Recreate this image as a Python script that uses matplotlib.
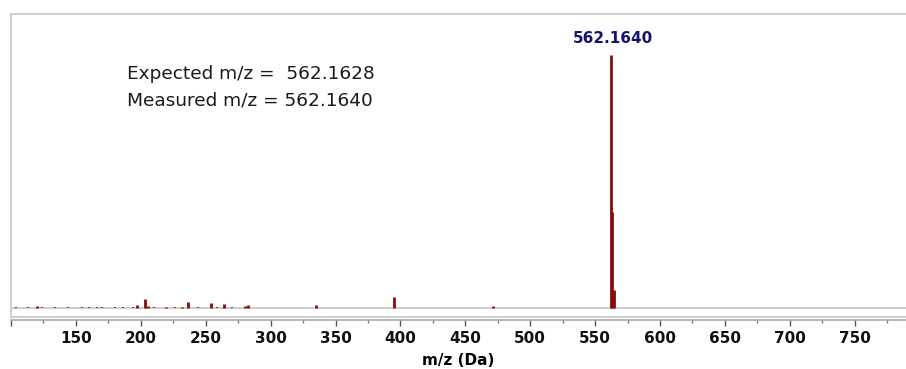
import matplotlib.pyplot as plt
from matplotlib.lines import Line2D

# peak list (relative intensity, %)
peak_mz = [562.164, 563.17, 564.17, 395.1, 203.0, 236.4, 254.1, 264.3, 197.1, 335.0,
           205.3, 282.2, 280.2, 120.0, 219.4, 232.0, 471.0]
peak_int = [100.0, 37.8, 7.1, 4.5, 3.5, 2.6, 2.2, 1.8, 1.3, 1.3,
            0.9, 1.2, 0.8, 0.8, 0.6, 0.6, 0.8]

# low-level noise along the baseline
noise_mz = [104, 108, 113, 117, 124, 129, 134, 139, 144, 149, 155, 160, 166, 170, 175,
            180, 186, 190, 194, 210, 214, 226, 244, 249, 259, 270, 275, 290, 350, 355,
            360, 370, 379, 420, 437, 505, 518, 534, 552, 592]
noise_int = [0.3, 0.2, 0.3, 0.2, 0.3, 0.2, 0.3, 0.2, 0.3, 0.2, 0.3, 0.3, 0.4, 0.3, 0.2,
             0.3, 0.3, 0.2, 0.3, 0.3, 0.2, 0.3, 0.3, 0.2, 0.3, 0.3, 0.2, 0.2, 0.2, 0.2,
             0.2, 0.2, 0.2, 0.1, 0.1, 0.2, 0.1, 0.2, 0.2, 0.2]

base_label = "562.1640"
info_lines = ["Expected m/z =  562.1628", "Measured m/z = 562.1640"]
x_ticks = list(range(100, 800, 50))

fig = plt.figure(figsize=(9.06, 3.69), dpi=100)
ax = fig.add_axes([11 / 906, 1 - 317 / 369, 895 / 906, 303 / 369])

frame = '#cfcfcf'
red = '#8b0a0a'

ax.axhline(0, color='#c4c4c4', lw=1.2, zorder=1)
ax.vlines(noise_mz, 0, noise_int, color=red, lw=1.2, zorder=2)
ax.vlines(peak_mz, 0, peak_int, color=red, lw=2.0, zorder=3)

ax.text(peak_mz[0] + 1.5, 103.5, base_label, ha='center', va='bottom', color='#141470',
        fontsize=11, fontweight='bold', family='DejaVu Sans')
ax.text(189, 92.5, info_lines[0], ha='left', va='center', fontsize=13.3,
        family='DejaVu Sans', color='#1a1a1a')
ax.text(189, 82.0, info_lines[1], ha='left', va='center', fontsize=13.3,
        family='DejaVu Sans', color='#1a1a1a')

ax.set_xlim(101.5, 789.5)
ax.set_ylim(-3.5, 116)

for s in ['top', 'left', 'right']:
    ax.spines[s].set_color(frame)
    ax.spines[s].set_linewidth(1.5)
ax.spines['right'].set_visible(False)
ax.spines['bottom'].set_color('#aaaaaa')
ax.spines['bottom'].set_linewidth(1.2)
ax.spines['bottom'].set_position(('outward', 2))
ax.add_line(Line2D([0, 1], [0, 0], transform=ax.transAxes, color=frame, lw=1.5,
                   clip_on=False))

ax.set_yticks([])
ax.set_xticks(x_ticks)
ax.set_xticklabels(['' if t == 100 else str(t) for t in x_ticks])
ax.set_xticks(range(125, 800, 50), minor=True)
ax.tick_params(axis='x', which='major', length=4, width=1, color='#555555',
               labelsize=11, pad=4)
ax.tick_params(axis='x', which='minor', length=2.5, width=1, color='#777777')
for lab in ax.get_xticklabels():
    lab.set_fontweight('bold')
    lab.set_color('#111111')

ax.set_xlabel('m/z (Da)', fontsize=11, fontweight='bold', labelpad=5)

fig.savefig('out.png', dpi=100)
